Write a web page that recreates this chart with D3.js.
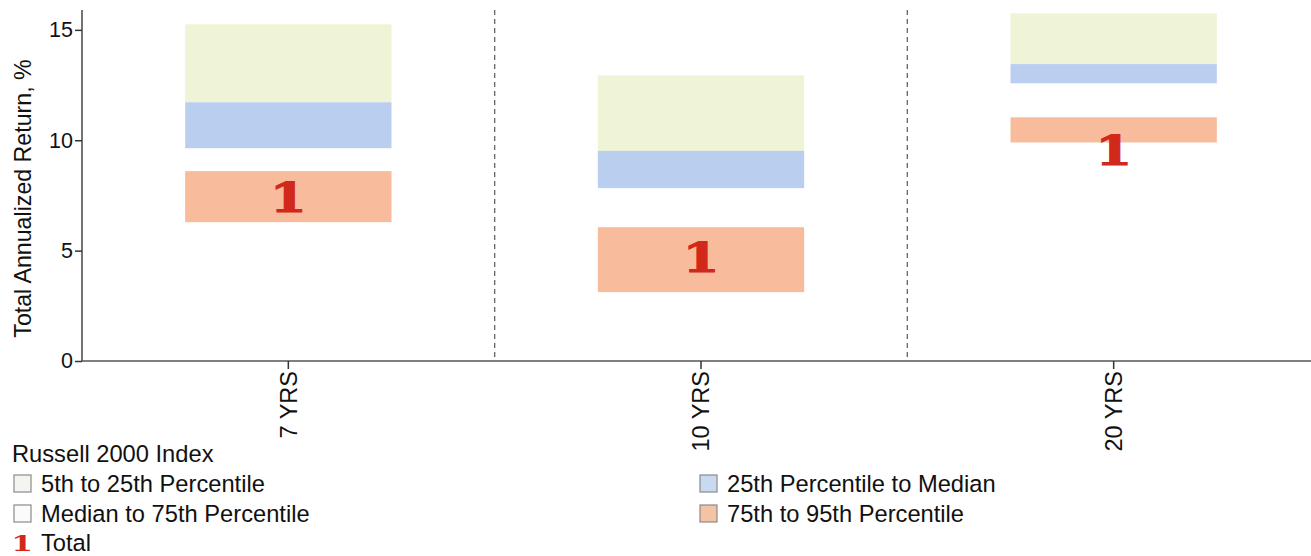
<!DOCTYPE html>
<html>
<head>
<meta charset="utf-8">
<script src="https://cdn.jsdelivr.net/npm/d3@7"></script>
<style>
  html, body { margin: 0; padding: 0; background: #fff; }
  svg { display: block; }
  text { font-family: "Liberation Sans", Arial, sans-serif; fill: #111; }
</style>
</head>
<body>
<svg id="chart" width="1311" height="556"></svg>
<script>
// ---- data ----
const categories = ["7 YRS", "10 YRS", "20 YRS"];
const p5     = [15.25, 12.94, 15.75];
const p25    = [11.72, 9.52, 13.45];
const median = [9.64, 7.83, 12.58];
const p75    = [8.60, 6.06, 11.04];
const p95    = [6.29, 3.12, 9.90];
const total  = [7.42, 4.70, 9.55];
const yTicks = [0, 5, 10, 15];
const yTitle = "Total Annualized Return, %";
const legendTitle = "Russell 2000 Index";
const legendItems = [
  { label: "5th to 25th Percentile", key: "g" },
  { label: "Median to 75th Percentile", key: "w" },
  { label: "25th Percentile to Median", key: "b" },
  { label: "75th to 95th Percentile", key: "o" },
  { label: "Total", key: "t" }
];

// ---- styles ----
const colors = { g: "#eef4d5", b: "#bacfef", o: "#f8bb9c", w: "#ffffff" };
const legendFill = { g: "#f4f4f1", w: "#fbfbfb", b: "#c7daf0", o: "#f6c2a4" };
const red = "#d2281b";
const legendFont = "23.7px";

const svg = d3.select("#chart");
const x0 = 82, x1 = 1320, yBottom = 361, yTop = 10;

const x = d3.scaleBand().domain(categories).range([x0, x1]).paddingInner(0.5).paddingOuter(0.25);
const y = d3.scaleLinear().domain([0, 15.9]).range([yBottom, yTop]);

// dashed separators between categories
const g = svg.append("g");
g.selectAll("line.sep").data(categories.slice(1)).join("line")
  .attr("class", "sep")
  .attr("x1", d => x(d) - x.bandwidth() / 2).attr("x2", d => x(d) - x.bandwidth() / 2)
  .attr("y1", y(15.9)).attr("y2", y(0))
  .attr("stroke", "#666").attr("stroke-width", 1.3).attr("stroke-dasharray", "5,4");

// bands
const bands = [
  { top: p5, bot: p25, c: colors.g },
  { top: p25, bot: median, c: colors.b },
  { top: p75, bot: p95, c: colors.o }
];
bands.forEach(b => {
  g.append("g").selectAll("rect").data(categories).join("rect")
    .attr("x", d => x(d))
    .attr("width", x.bandwidth())
    .attr("y", (d, i) => y(b.top[i]))
    .attr("height", (d, i) => y(b.bot[i]) - y(b.top[i]))
    .attr("fill", b.c);
});

// total markers
g.append("g").selectAll("text").data(categories).join("text")
  .attr("transform", (d, i) => `translate(${x(d) + x.bandwidth() / 2},${y(total[i])}) scale(1.3,1)`)
  .attr("dy", "0.36em")
  .attr("text-anchor", "middle")
  .style("font-family", "'DejaVu Serif', serif")
  .style("font-weight", "bold")
  .style("font-size", "41px")
  .style("fill", red)
  .style("stroke", red)
  .style("stroke-width", 1)
  .text("1");

// y axis
const yAxis = svg.append("g").attr("transform", `translate(${x0},0)`)
  .call(d3.axisLeft(y).tickValues(yTicks).tickSize(7).tickPadding(2).tickFormat(d3.format("d")));
yAxis.select(".domain").attr("stroke", "#444").attr("stroke-width", 1.5).attr("d", `M0,${yTop}V${yBottom}`);
yAxis.selectAll(".tick line").attr("stroke", "#333").attr("stroke-width", 1.5);
yAxis.selectAll(".tick text").style("font-size", "21.5px").style("font-family", "'Liberation Sans', Arial, sans-serif").attr("fill", "#111");

// x axis
const xAxis = svg.append("g").attr("transform", `translate(0,${yBottom})`)
  .call(d3.axisBottom(x).tickSize(8).tickSizeOuter(0));
xAxis.select(".domain").attr("stroke", "#555").attr("stroke-width", 1.5).attr("d", `M${x0},0H${x1}`);
xAxis.selectAll(".tick line").attr("stroke", "#333").attr("stroke-width", 1.5);
xAxis.selectAll(".tick text")
  .style("font-size", "23.5px").style("font-family", "'Liberation Sans', Arial, sans-serif").attr("fill", "#111")
  .attr("transform", "rotate(-90)")
  .attr("text-anchor", "end")
  .attr("x", -10).attr("y", 0).attr("dy", "0.36em");

// y title
svg.append("text")
  .attr("transform", `translate(31,${(y(0) + y(15.9)) / 2 + 13}) rotate(-90)`)
  .attr("text-anchor", "middle")
  .style("font-size", "23.2px")
  .text(yTitle);

// legend
const lg = svg.append("g");
lg.append("text").attr("x", 12).attr("y", 462).style("font-size", legendFont).text(legendTitle);
const legendPos = {
  g: [14, 492], w: [14, 522], t: [14, 551], b: [700, 492], o: [700, 522]
};
legendItems.forEach(it => {
  const [lx, ly] = legendPos[it.key];
  if (it.key === "t") {
    lg.append("text").attr("transform", `translate(${lx + 8},${ly}) scale(1.3,0.95)`)
      .attr("text-anchor", "middle")
      .style("font-family", "'DejaVu Serif', serif").style("font-weight", "bold")
      .style("font-size", "24px").style("fill", red).text("1");
  } else {
    lg.append("rect").attr("x", lx).attr("y", ly - 17).attr("width", 17).attr("height", 17)
      .attr("fill", legendFill[it.key]).attr("stroke", "#8a8a8a").attr("stroke-width", 1.2);
  }
  lg.append("text").attr("x", lx + 27).attr("y", ly).style("font-size", legendFont).text(it.label);
});
</script>
</body>
</html>
